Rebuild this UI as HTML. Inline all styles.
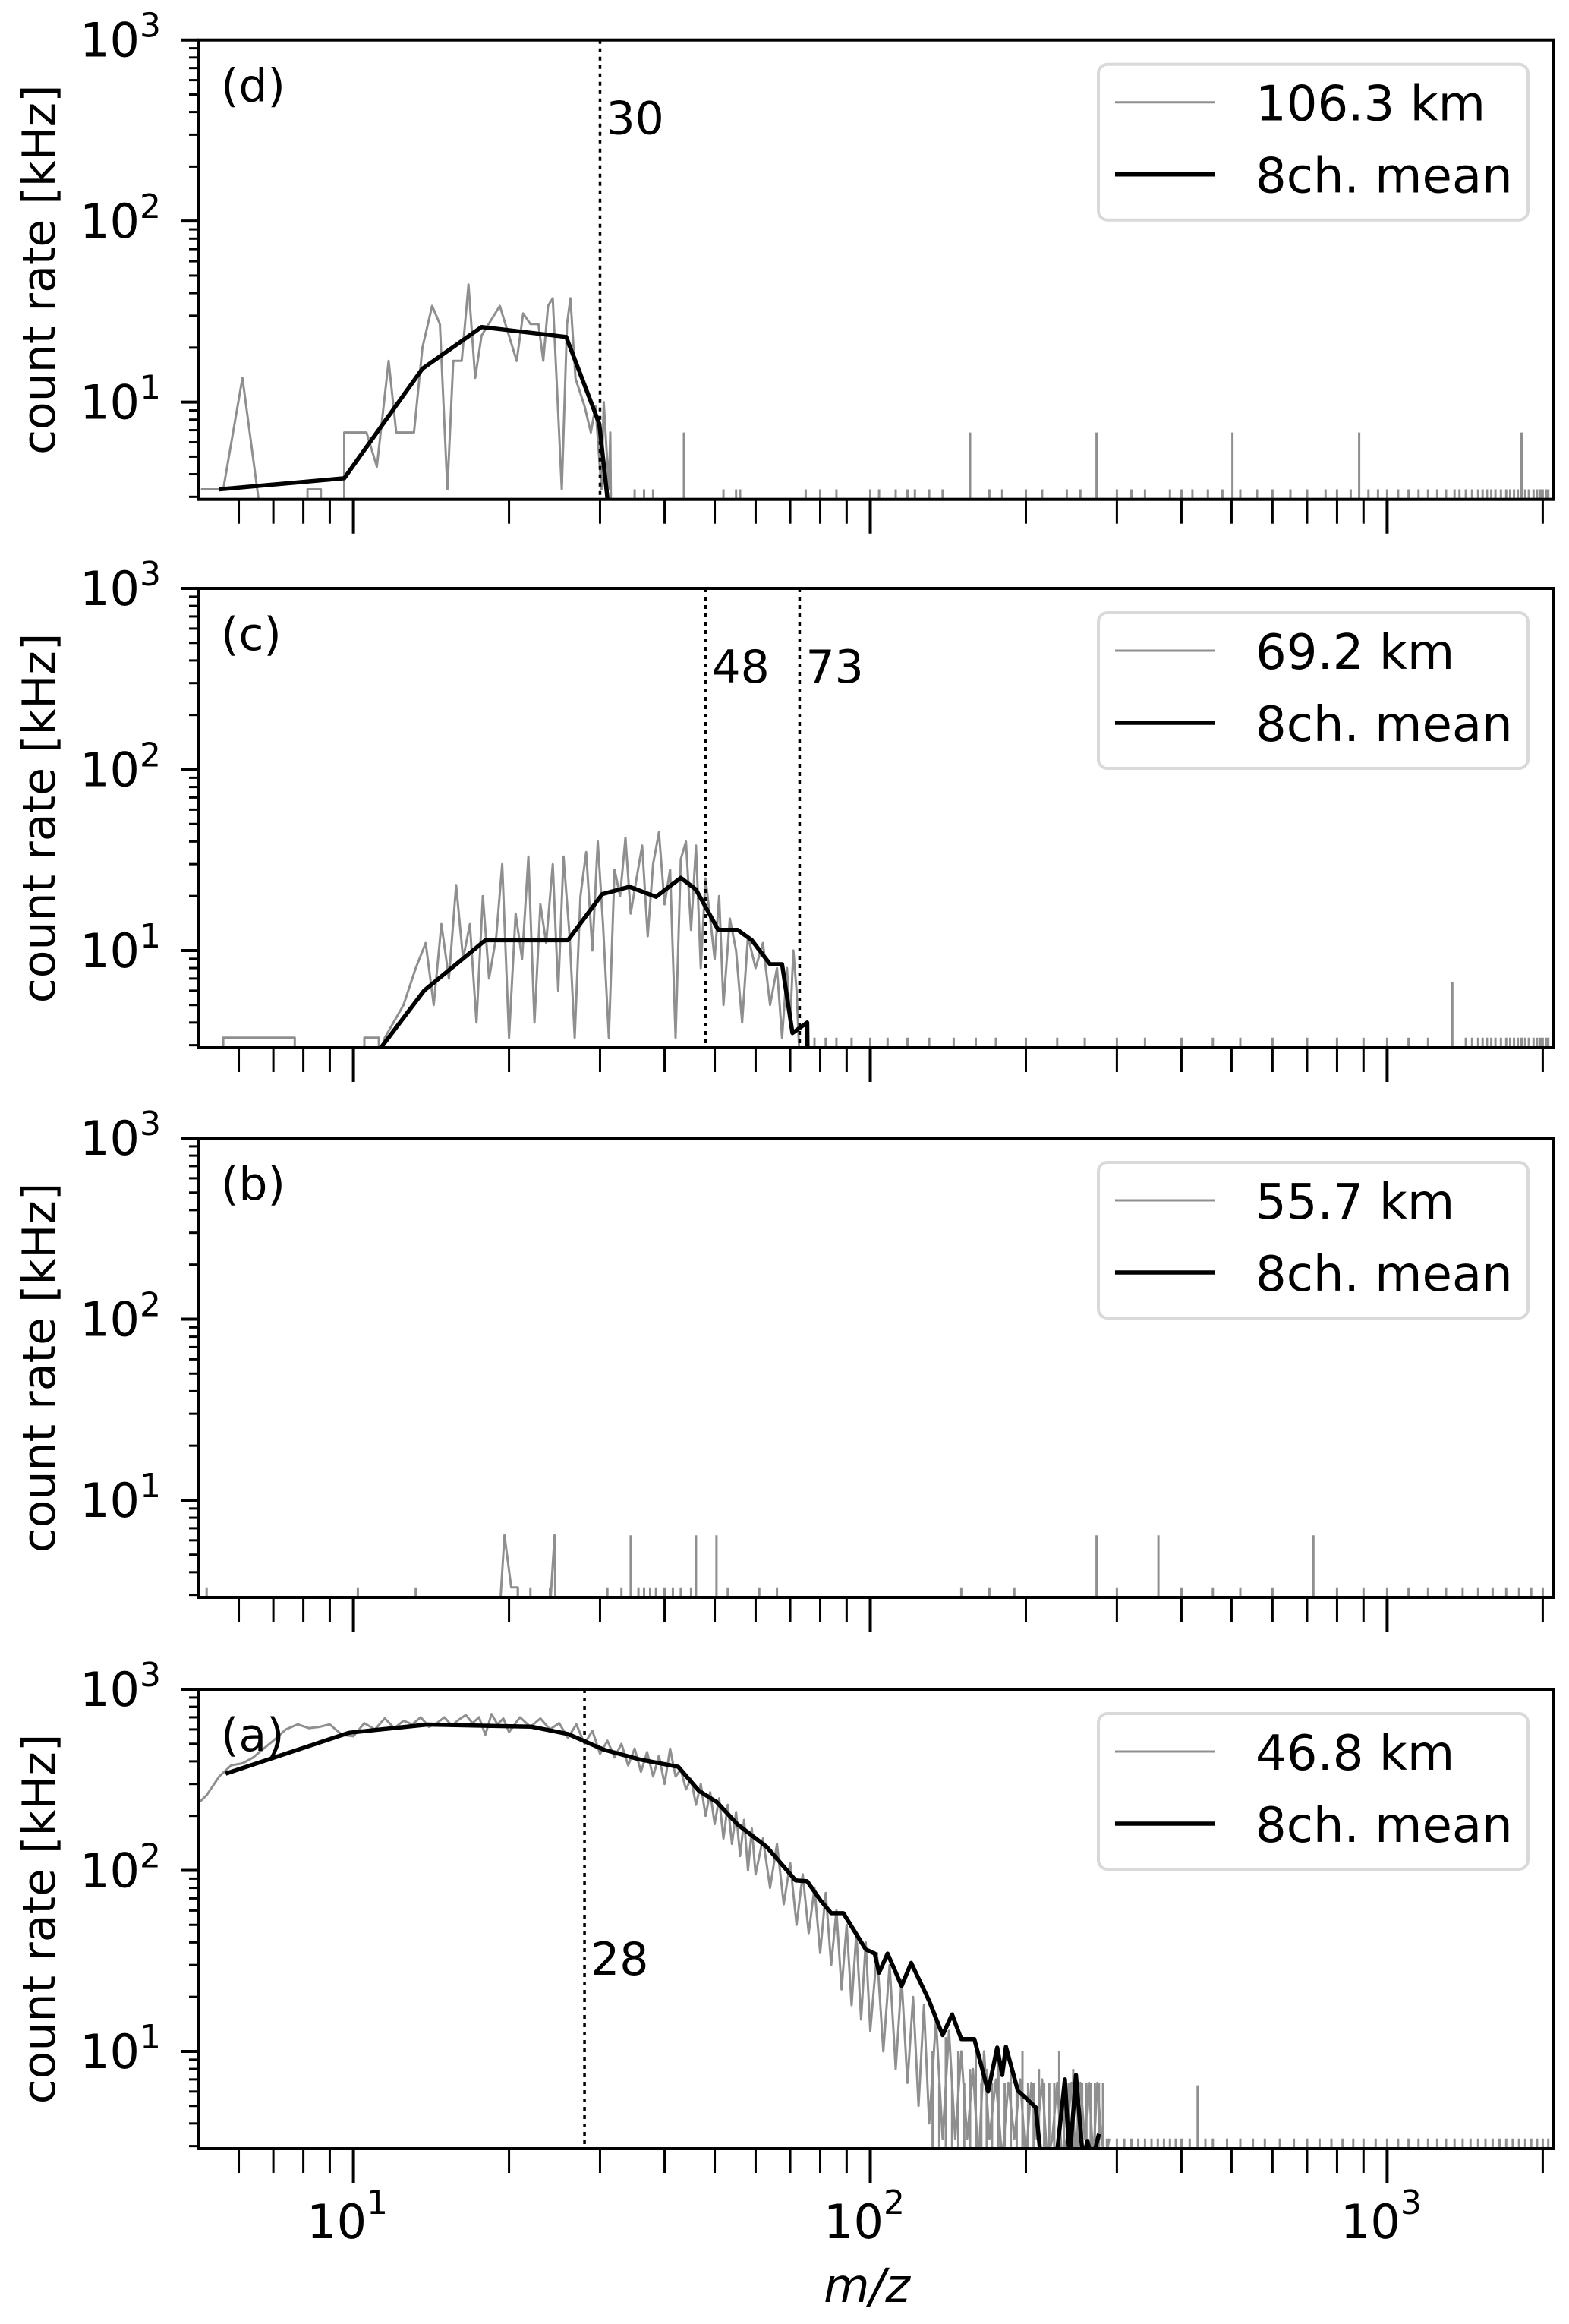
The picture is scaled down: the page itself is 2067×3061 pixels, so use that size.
<!DOCTYPE html>
<html><head><meta charset="utf-8">
<style>
html,body{margin:0;padding:0;background:#fff;}
svg{display:block;font-family:"DejaVu Sans","Liberation Sans",sans-serif;}
</style></head>
<body>
<svg id="fig" width="2067" height="3061" viewBox="0 0 2067 3061" xmlns="http://www.w3.org/2000/svg">
<rect width="2067" height="3061" fill="#fff"/>
</svg>
<script>
// ---- data ----
const panelLabels = ["(d)","(c)","(b)","(a)"];
const altitudes = ["106.3 km","69.2 km","55.7 km","46.8 km"];
const markerLines = [[30],[48,73],[],[28]];

const dGrayM = [5.07,5.6,6.1,6.6,8.15,8.15,8.65,8.65,9.6,9.6,10.6,11.1,11.7,12.1,13.1,13.6,14.2,14.7,15.2,15.6,16.2,16.7,17.2,17.7,19.2,20.7,21.3,22,22.8,23.3,23.8,24.3,25.3,25.9,26.3,26.9,28,28.8,29.4,30.2,30.5,31.2,31.4,31.5];
const dGrayV = [3.3,3.3,13.6,1,1,3.3,3.3,1,1,6.8,6.8,4.4,16.9,6.8,6.8,20,34,27,3.3,16.9,16.9,44.6,13.6,23.3,34,16.9,30.9,27,27,16.9,34,37.5,3.3,27,37.5,13.5,9.5,6.8,9.5,3.3,10,3.3,6.8,1];
const dMeanM = [5.5,9.6,13.6,17.7,25.8,29.9,31.2];
const dMeanV = [3.3,3.8,15.3,26,22.9,7.6,1];
const dSpikeM = [35,36.5,38,43.6,52,55,56,75,80,86,100,104,112,118,122,130,138,156,170,180,200,215,240,255,274,300,320,340,380,400,420,450,480,502,520,560,600,650,700,760,800,850,883,920,960,1000,1050,1100,1150,1200,1250,1300,1350,1380,1420,1460,1500,1530,1560,1590,1620,1660,1700,1730,1760,1790,1820,1850,1880,1920,1950,1980,2000,2030,2050];
const dSpikeV = [3.3,3.3,3.3,6.8,3.3,3.3,3.3,3.3,3.3,3.3,3.3,3.3,3.3,3.3,3.3,3.3,3.3,6.8,3.3,3.3,3.3,3.3,3.3,3.3,6.8,3.3,3.3,3.3,3.3,3.3,3.3,3.3,3.3,6.8,3.3,3.3,3.3,3.3,3.3,3.3,3.3,3.3,6.8,3.3,3.3,3.3,3.3,3.3,3.3,3.3,3.3,3.3,3.3,3.3,3.3,3.3,3.3,3.3,3.3,3.3,3.3,3.3,3.3,3.3,3.3,3.3,6.8,3.3,3.3,3.3,3.3,3.3,3.3,3.3,3.3];

const cGrayM = [5.6,5.6,7.7,7.7,10.5,10.5,11.2,11.2,11.5,12.5,13.2,13.8,14.3,14.8,15.3,15.8,16.3,16.8,17.3,17.8,18.3,18.9,19.4,20,20.6,21.2,21.8,22.4,23,23.6,24.3,24.9,25.5,26.2,26.8,27.5,28.2,29,29.7,30.4,31.2,32,32.8,33.6,34.4,35.3,36.2,37.1,38,39,40,41,42,43,44,45,46,47,48,49,50,51,52,53.5,55,56.5,58,60,62,64,66,67.5,69,70,71,72,73];
const cGrayV = [1,3.3,3.3,1,1,3.3,3.3,1,3.3,5,8,11,5,14,7,23,9,14,4,20,7,12,30,3.3,16,9,33,4,18,11,30,6,33,12,3.3,20,35,10,40,14,3.3,28,20,42,16,25,38,12,30,45,18,28,3.3,32,40,13,38,8,25,15,9,20,5,15,10,4,12,8,11,5,8,3.3,8,4,10,6,1];
const cMeanM = [11.3,13.7,18,26,30.3,34.2,38.5,43,46,50.8,55.4,59,64,67.5,70.7,75.5,75.6];
const cMeanV = [2.9,6.0,11.4,11.4,20.5,22.5,19.8,25.2,21.7,13,13,11.4,8.4,8.4,3.5,4.0,2.9];
const cSpikeM = [78,82,86,92,100,108,118,130,145,160,175,200,230,260,300,340,400,460,520,600,700,800,900,1000,1100,1200,1337,1420,1460,1500,1530,1560,1590,1620,1660,1700,1730,1760,1790,1820,1850,1880,1920,1950,1980,2000,2030,2050];
const cSpikeV = [3.3,3.3,3.3,3.3,3.3,3.3,3.3,3.3,3.3,3.3,3.3,3.3,3.3,3.3,3.3,3.3,3.3,3.3,3.3,3.3,3.3,3.3,3.3,3.3,3.3,3.3,6.7,3.3,3.3,3.3,3.3,3.3,3.3,3.3,3.3,3.3,3.3,3.3,3.3,3.3,3.3,3.3,3.3,3.3,3.3,3.3,3.3,3.3];

const bGrayM = [19.2,19.6,20.2,20.2,20.8,20.8,24.0,24.5,24.6];
const bGrayV = [1,6.4,3.3,3.3,3.3,1,1,6.4,1];
const bMeanM = [];
const bMeanV = [];
const bSpikeM = [5.2,10.2,13.2,20.8,22,24,31,33,34.4,35.6,36.5,37.5,38.5,40,41.5,43,45,46,50.4,53,61,66,150,170,190,274,300,361,400,460,520,600,720,800,900,1000,1100,1200,1300,1400,1500,1600,1700,1800,1900,2000];
const bSpikeV = [3.3,3.3,3.3,3.3,3.3,3.3,3.3,3.3,6.4,3.3,3.3,3.3,3.3,3.3,3.3,3.3,3.3,6.4,6.4,3.3,3.3,3.3,3.3,3.3,3.3,6.4,3.3,6.4,3.3,3.3,3.3,3.3,6.4,3.3,3.3,3.3,3.3,3.3,3.3,3.3,3.3,3.3,3.3,3.3,3.3,3.3];

const aGrayM = [5.05,5.2,5.5,5.8,6.1,6.4,6.7,7.0,7.4,7.8,8.2,8.6,9.0,9.5,10,10.5,11,11.5,12,12.5,13,13.5,14,14.5,15,15.5,16,16.5,17,17.5,18,18.5,19,19.5,20,21,22,23,24,25,26,27,28,29,30,31,32,33,34,35,36,37,38,39,40,41,42,43,44,45,46,47,48,49,50,51,52,53,54,55,56,57,58,59,60,62,64,66,68,70,72,74,76,78,80,82,84,86,88,90,92,94,96,98,100,103,106,109,112,115,118,121,124,127,130,134,138,142,146,150,154,158,162,166,170,175,180,185,190,195,200,205,210,215,220,225,230,235,240,245,250,255,260,265,270,275,280,285,290];
const aGrayV = [240,260,330,380,390,420,470,520,600,640,610,620,640,560,550,650,600,690,610,670,640,700,620,650,700,630,680,720,650,700,560,730,640,690,580,700,620,690,600,650,540,640,500,590,440,520,420,500,380,470,350,450,330,430,300,470,330,360,280,320,230,300,200,270,180,250,150,230,140,210,120,190,100,170,95,150,80,140,65,110,50,95,45,80,35,75,30,60,22,50,18,45,15,40,13,35,10,30,8,25,6.7,20,5,18,4,15,3.3,13,3.3,10,3.3,8,1,10,3.3,7,1,6.7,3.3,7,1,6.7,3.3,7,1,3.3,6.7,1,3.3,6.7,1,6.7,3.3,6.7,1,6.7,3.3,1,3.3];
const aMeanM = [5.66,9.8,13.9,22.1,26,30.5,35.9,42.5,46.6,50.5,55.4,63,71.7,75.5,80.2,84,88.7,98,102,104,108,115,120,130,138,144,150,159,169,176,180,183,193,199,209,214,229,238,243,250,258,263,269,277];
const aMeanV = [342,575,638,621,566,464,409,373,275,238,179,135,88,87,68,58,58,36.6,34.7,27.2,34.7,23,30.8,19,12.3,16,11.7,11.7,6.0,10.5,7.4,10.6,6.05,5.6,4.9,1,1,7.0,1,7.4,1,3.2,1,3.5];
const aSpikeM = [132,136,140,144,148,152,156,160,164,168,172,177,182,187,192,197,202,207,212,217,222,227,232,237,242,247,252,257,262,267,272,277,282,287,300,310,320,330,340,350,360,370,380,390,400,415,430,445,460,490,520,550,580,620,660,700,740,780,820,860,900,950,1000,1050,1100,1150,1200,1250,1300,1350,1400,1450,1500,1550,1600,1650,1700,1750,1800,1850,1900,1950,2000,2050];
const aSpikeV = [10,6.7,12,6.7,10,6.7,8,10,6.7,8,6.7,10,6.7,8,6.7,10,6.7,6.7,8,6.7,6.7,6.7,10,6.7,6.7,8,6.7,6.7,6.7,6.7,6.7,6.7,6.7,3.3,3.3,3.3,3.3,3.3,3.3,3.3,3.3,3.3,3.3,3.3,3.3,3.3,6.5,3.3,3.3,3.3,3.3,3.3,3.3,3.3,3.3,3.3,3.3,3.3,3.3,3.3,3.3,3.3,3.3,3.3,3.3,3.3,3.3,3.3,3.3,3.3,3.3,3.3,3.3,3.3,3.3,3.3,3.3,3.3,3.3,3.3,3.3,3.3,3.3,3.3];

const xTicks = [10,100,1000];
const xTickExp = ["1","2","3"];
const yTicks = [10,100,1000];
const yTickExp = ["1","2","3"];

// ---- layout ----
const svg = document.getElementById('fig');
const NS = 'http://www.w3.org/2000/svg';
const X0 = 262, X1 = 2046, LMIN = 0.701, LMAX = 3.321;
const PH = 605, YLMIN = 0.463, YLMAX = 3;
const tops = [52.7, 775, 1499, 2225];
function xs(m){ return X0 + (Math.log10(m) - LMIN) / (LMAX - LMIN) * (X1 - X0); }
function ys(v, top){ const lv = Math.log10(Math.max(v, 2.5)); return top + (YLMAX - lv) / (YLMAX - YLMIN) * PH; }
function mk(tag, attrs, parent){ const e = document.createElementNS(NS, tag); for (const k in attrs) e.setAttribute(k, attrs[k]); (parent || svg).appendChild(e); return e; }

const grays = [[dGrayM,dGrayV],[cGrayM,cGrayV],[bGrayM,bGrayV],[aGrayM,aGrayV]];
const means = [[dMeanM,dMeanV],[cMeanM,cMeanV],[bMeanM,bMeanV],[aMeanM,aMeanV]];
const spikes = [[dSpikeM,dSpikeV],[cSpikeM,cSpikeV],[bSpikeM,bSpikeV],[aSpikeM,aSpikeV]];
const GRAY = '#8f8f8f';

tops.forEach((top, p) => {
  const bot = top + PH;
  const g = mk('g', {});
  
  
  const cp = mk('clipPath', {id: 'clip' + p}, g);
  mk('rect', {x: X0, y: top, width: X1 - X0, height: PH}, cp);
  const plot = mk('g', {'clip-path': 'url(#clip' + p + ')'}, g);

  const [sm, sv] = spikes[p];
  let sd = '';
  for (let i = 0; i < sm.length; i++) { const x = xs(sm[i]).toFixed(1); sd += 'M' + x + ' ' + (bot + 2) + 'L' + x + ' ' + ys(sv[i], top).toFixed(1); }
  const sp = mk('path', {d: sd, stroke: GRAY, 'stroke-width': 3, fill: 'none'}, plot);
  
  

  const [gm, gv] = grays[p];
  if (gm.length) {
    const d = gm.map((m, i) => (i ? 'L' : 'M') + xs(m).toFixed(1) + ' ' + ys(gv[i], top).toFixed(1)).join('');
    const gl = mk('path', {d: d, stroke: GRAY, 'stroke-width': 3, fill: 'none', 'stroke-linejoin': 'round'}, plot);
    
    
  }
  const [mm, mv] = means[p];
  if (mm.length) {
    const d = mm.map((m, i) => (i ? 'L' : 'M') + xs(m).toFixed(1) + ' ' + ys(mv[i], top).toFixed(1)).join('');
    const ml = mk('path', {d: d, stroke: '#000', 'stroke-width': 5.5, fill: 'none', 'stroke-linejoin': 'round'}, plot);
    
    
  }
  markerLines[p].forEach(m => {
    const x = xs(m);
    const vl = mk('line', {x1: x, x2: x, y1: top, y2: bot, stroke: '#000', 'stroke-width': 3.5, 'stroke-dasharray': '5 6'}, g);
    
    
    const lbl = mk('text', {x: x + 8, y: top + (p === 3 ? 376 : 124), 'font-size': 60, fill: '#000'}, g);
    lbl.textContent = String(m);
    
    
  });

  for (let e = 0; e <= 3; e++) {
    for (let k = 1; k <= 9; k++) {
      const v = k * Math.pow(10, e);
      const lv = Math.log10(v);
      if (lv < YLMIN || lv > YLMAX + 1e-9) continue;
      const y = ys(v, top);
      const major = k === 1;
      mk('line', {x1: X0 - (major ? 24 : 13), x2: X0, y1: y, y2: y, stroke: '#000', 'stroke-width': major ? 4 : 3}, g);
    }
  }
  yTicks.forEach((v, i) => {
    const y = ys(v, top);
    const t = mk('text', {x: 212, y: y + 22, 'text-anchor': 'end', 'font-size': 62, fill: '#000'}, g);
    t.innerHTML = '10<tspan dy="-26" font-size="44">' + yTickExp[i] + '</tspan>';
    
    
  });
  for (let e = 0; e <= 3; e++) {
    for (let k = 1; k <= 9; k++) {
      const m = k * Math.pow(10, e);
      const lm = Math.log10(m);
      if (lm < LMIN - 0.002 || lm > LMAX) continue;
      const x = xs(m);
      const major = k === 1;
      mk('line', {x1: x, x2: x, y1: bot, y2: bot + (major ? 45 : 32), stroke: '#000', 'stroke-width': major ? 4 : 3}, g);
    }
  }
  const fr = mk('rect', {x: X0, y: top, width: X1 - X0, height: PH, fill: 'none', stroke: '#000', 'stroke-width': 4}, g);
  
  

  const yl = mk('text', {x: 0, y: 0, transform: 'translate(72,' + (top + PH / 2) + ') rotate(-90)', 'text-anchor': 'middle', 'font-size': 60, fill: '#000'}, g);
  yl.textContent = 'count rate [kHz]';
  
  

  const pl = mk('text', {x: 291, y: top + 81, 'font-size': 60, fill: '#000'}, g);
  pl.textContent = panelLabels[p];
  
  

  const lg = mk('g', {}, g);
  
  
  const lt = top + 32;
  mk('rect', {x: 1447, y: lt, width: 566, height: 205, rx: 12, fill: '#fff', 'fill-opacity': 0.8, stroke: '#d9d9d9', 'stroke-width': 4}, lg);
  const l1 = mk('line', {x1: 1469, x2: 1601, y1: lt + 50, y2: lt + 50, stroke: GRAY, 'stroke-width': 3}, lg);
  
  
  const t1 = mk('text', {x: 1654, y: lt + 74, 'font-size': 64, fill: '#000'}, lg);
  t1.textContent = altitudes[p];
  const l2 = mk('line', {x1: 1469, x2: 1601, y1: lt + 145, y2: lt + 145, stroke: '#000', 'stroke-width': 5.5}, lg);
  
  
  const t2 = mk('text', {x: 1654, y: lt + 169, 'font-size': 64, fill: '#000'}, lg);
  t2.textContent = '8ch. mean';
});

xTicks.forEach((m, i) => {
  const t = mk('text', {x: xs(m) - 8, y: 2948, 'text-anchor': 'middle', 'font-size': 62, fill: '#000'});
  t.innerHTML = '10<tspan dy="-32" font-size="44">' + xTickExp[i] + '</tspan>';
  
  
});
const xl = mk('text', {x: 1142, y: 3032, 'text-anchor': 'middle', 'font-size': 62, 'font-style': 'italic', fill: '#000'});
xl.textContent = 'm/z';


</script>
</body></html>
